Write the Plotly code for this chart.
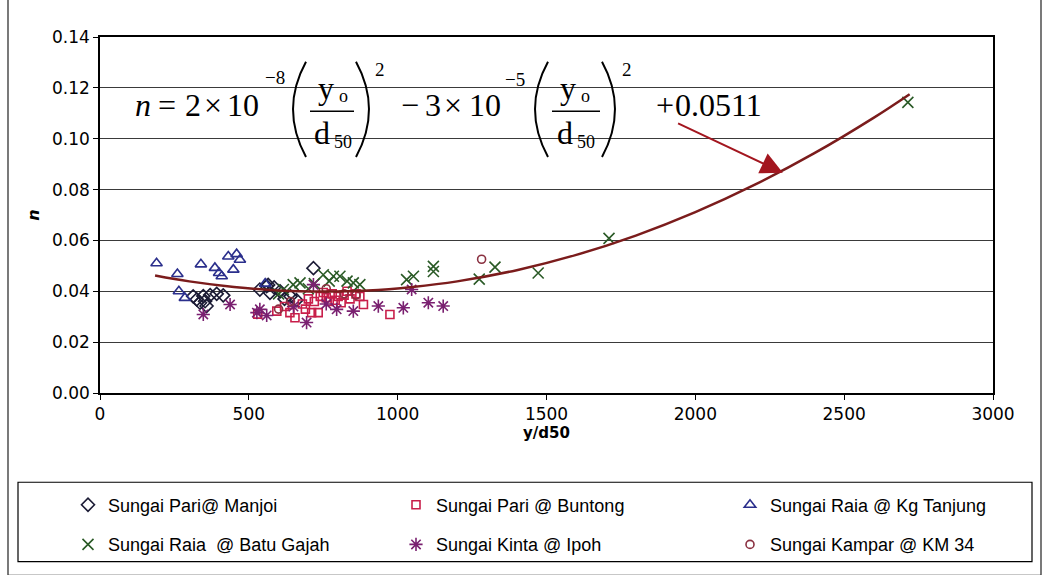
import plotly.graph_objects as go

# ---------------- data ----------------
manjoi_x = [313, 325, 336, 347, 353, 358, 370, 392, 414, 537, 560, 565, 571, 585, 605, 620, 640, 660, 717]
manjoi_n = [0.038, 0.0368, 0.0355, 0.0381, 0.0361, 0.0342, 0.0385, 0.039, 0.0384, 0.0407, 0.042, 0.0425,
            0.0394, 0.0415, 0.040, 0.037, 0.038, 0.0365, 0.0491]

buntong_x = [530, 594, 620, 638, 655, 680, 690, 700, 711, 720, 733, 740, 750, 760, 770, 780, 790, 800,
             810, 820, 830, 840, 860, 873, 885, 974]
buntong_n = [0.031, 0.0322, 0.034, 0.0316, 0.0296, 0.035, 0.033, 0.037, 0.0316, 0.036, 0.0316, 0.038,
             0.0395, 0.0375, 0.036, 0.039, 0.0365, 0.038, 0.0355, 0.0385, 0.040, 0.037, 0.039, 0.038,
             0.0348, 0.0309]

tanjung_x = [190, 260, 265, 285, 339, 386, 400, 409, 431, 448, 459, 470, 555]
tanjung_n = [0.051, 0.0468, 0.040, 0.0374, 0.0506, 0.0492, 0.0472, 0.0459, 0.0537, 0.0485, 0.0546,
             0.0524, 0.043]

batugajah_x = [600, 616, 649, 672, 700, 720, 750, 770, 784, 806, 830, 851, 873, 1030, 1053, 1120, 1120,
               1274, 1327, 1472, 1710, 2714]
batugajah_n = [0.039, 0.0407, 0.0426, 0.0433, 0.041, 0.043, 0.0465, 0.044, 0.0459, 0.0459, 0.044, 0.0433,
               0.0426, 0.0446, 0.0459, 0.0498, 0.0478, 0.0448, 0.0495, 0.0472, 0.0608, 0.1143]

kinta_x = [347, 437, 527, 537, 560, 650, 694, 717, 760, 795, 851, 935, 1019, 1047, 1103, 1153]
kinta_n = [0.0309, 0.0348, 0.0316, 0.0329, 0.0305, 0.034, 0.0277, 0.0426, 0.035, 0.0329, 0.0322, 0.0342,
           0.0335, 0.0407, 0.0355, 0.0342]

kampar_x = [600, 640, 760, 820, 860, 1282]
kampar_n = [0.033, 0.036, 0.041, 0.039, 0.0385, 0.0526]

# fitted trend line
trend_x = [185, 300, 450, 600, 750, 900, 1050, 1200, 1400, 1600, 1800, 2000, 2200, 2400, 2600, 2720]
trend_n = [0.0462, 0.0439, 0.0417, 0.0403, 0.0399, 0.0403, 0.0417, 0.0439, 0.0483, 0.0543, 0.0619,
           0.0711, 0.0819, 0.0943, 0.1083, 0.1175]

x_ticks = [0, 500, 1000, 1500, 2000, 2500, 3000]
y_ticks = [0.00, 0.02, 0.04, 0.06, 0.08, 0.10, 0.12, 0.14]

series_names = ["Sungai Pari@ Manjoi", "Sungai Pari @ Buntong", "Sungai Raia @ Kg Tanjung",
                "Sungai Raia  @ Batu Gajah", "Sungai Kinta @ Ipoh", "Sungai Kampar @ KM 34"]

# ---------------- layout helpers (pixel -> paper) ----------------
L, R, T, B = 100, 993, 37, 396
def pxx(p):
    return (p - L) / (R - L)
def pxy(p):
    return (B - p) / (B - T)

fig = go.Figure()

styles = [
    (manjoi_x, manjoi_n, "diamond-open", "#1b1b35", 10, "legend"),
    (buntong_x, buntong_n, "square-open", "#c81e4a", 8, "legend2"),
    (tanjung_x, tanjung_n, "triangle-up-open", "#2b2f8c", 10, "legend3"),
    (batugajah_x, batugajah_n, "x-thin-open", "#2a5a26", 11, "legend4"),
    (kinta_x, kinta_n, "asterisk-open", "#7a2070", 11, "legend5"),
    (kampar_x, kampar_n, "circle-open", "#8a3040", 8, "legend6"),
]
for (xs, ys, sym, col, sz, lg), name in zip(styles, series_names):
    fig.add_trace(go.Scatter(
        x=xs, y=ys, mode="markers", name=name, legend=lg,
        marker=dict(symbol=sym, size=sz, color=col, line=dict(color=col, width=1.6)),
    ))

fig.add_trace(go.Scatter(
    x=trend_x, y=trend_n, mode="lines", line=dict(color="#7b1c1c", width=2.5, shape="spline"),
    showlegend=False, hoverinfo="skip",
))

# arrow from equation to curve
fig.add_annotation(x=2294, y=0.0866, xref="x", yref="y", ax=1937, ay=0.1063, axref="x", ayref="y",
                   text="", showarrow=True, arrowhead=2, arrowsize=2.2, arrowwidth=2,
                   arrowcolor="#a3161f", standoff=0)

# equation pieces
SERIF = "Liberation Serif"
eq = [
    ("<i>n</i>", 143, 106, 32), ("=", 167, 106, 32), ("2", 193, 106, 32), ("×", 213, 106, 32),
    ("10", 243, 106, 32), ("−8", 275, 78, 19),
    ("y", 326, 88, 32), ("o", 343, 96, 18), ("d", 322, 134, 32), ("50", 343, 143, 18),
    ("2", 380, 70, 19),
    ("−", 410, 106, 32), ("3", 433, 106, 32), ("×", 453, 106, 32), ("10", 485, 106, 32),
    ("−5", 515, 80, 19),
    ("y", 568, 88, 32), ("o", 585, 96, 18), ("d", 565, 134, 32), ("50", 586, 143, 18),
    ("2", 627, 70, 19),
    ("+", 665, 106, 32), ("0.0511", 718, 106, 32),
]
for txt, cx, cy, sz in eq:
    fig.add_annotation(x=pxx(cx), y=pxy(cy), xref="paper", yref="paper", text=txt, showarrow=False,
                       xanchor="center", yanchor="middle", font=dict(family=SERIF, size=sz, color="black"))

shapes = []
# fraction bars
for x0, x1 in [(310, 354), (552, 600)]:
    shapes.append(dict(type="line", xref="paper", yref="paper", x0=pxx(x0), x1=pxx(x1),
                       y0=pxy(112), y1=pxy(112), line=dict(color="black", width=1.5)))
# parentheses
def paren(xe, xc):
    return "M %f %f Q %f %f %f %f" % (pxx(xe), pxy(62), pxx(xc), pxy(110), pxx(xe), pxy(158))
for xe, xc in [(306, 280), (356, 382), (548, 522), (602, 628)]:
    shapes.append(dict(type="path", xref="paper", yref="paper", path=paren(xe, xc),
                       line=dict(color="black", width=2)))
# legend box
shapes.append(dict(type="rect", xref="paper", yref="paper", x0=pxx(18), x1=pxx(1032), y0=pxy(566),
                   y1=pxy(486), line=dict(color="black", width=1.2)))
# outer chart border
shapes.append(dict(type="rect", xref="paper", yref="paper", x0=pxx(8), x1=pxx(1041), y0=pxy(580),
                   y1=pxy(-5), line=dict(color="#222", width=1.2)))

legend_pos = {"legend": (68, 509), "legend2": (396, 509), "legend3": (730, 509),
              "legend4": (68, 549), "legend5": (396, 549), "legend6": (730, 549)}
leg_layout = {}
for k, (lx, ly) in legend_pos.items():
    leg_layout[k] = dict(x=pxx(lx), y=pxy(ly), xanchor="left", yanchor="middle",
                         bgcolor="rgba(0,0,0,0)", borderwidth=0,
                         font=dict(family="Liberation Sans", size=18, color="black"))

TICKF = dict(family="DejaVu Sans", size=17, color="black")
fig.update_layout(
    width=1049, height=575,
    margin=dict(l=L, r=1049 - R, t=T, b=575 - B),
    paper_bgcolor="white", plot_bgcolor="white",
    shapes=shapes,
    xaxis=dict(range=[0, 3000], tickvals=x_ticks, ticktext=[str(v) for v in x_ticks],
               showgrid=False, zeroline=False, showline=True, linecolor="black", linewidth=1.5,
               mirror=True, ticks="outside", ticklen=5, tickcolor="black", tickfont=TICKF,
               title=dict(text="<b>y/d50</b>", font=dict(family="DejaVu Sans", size=15, color="black"),
                          standoff=4)),
    yaxis=dict(range=[0, 0.14], tickvals=y_ticks, ticktext=["%.2f" % v for v in y_ticks],
               showgrid=True, gridcolor="#3a3a3a", gridwidth=1.3, zeroline=False, showline=True,
               linecolor="black", linewidth=1.5, mirror=True, ticks="outside", ticklen=5,
               tickcolor="black", tickfont=TICKF,
               title=dict(text="<b><i>n</i></b>", font=dict(family="DejaVu Sans", size=16, color="black"),
                          standoff=8)),
    **leg_layout,
)

fig.write_html("out.html")
